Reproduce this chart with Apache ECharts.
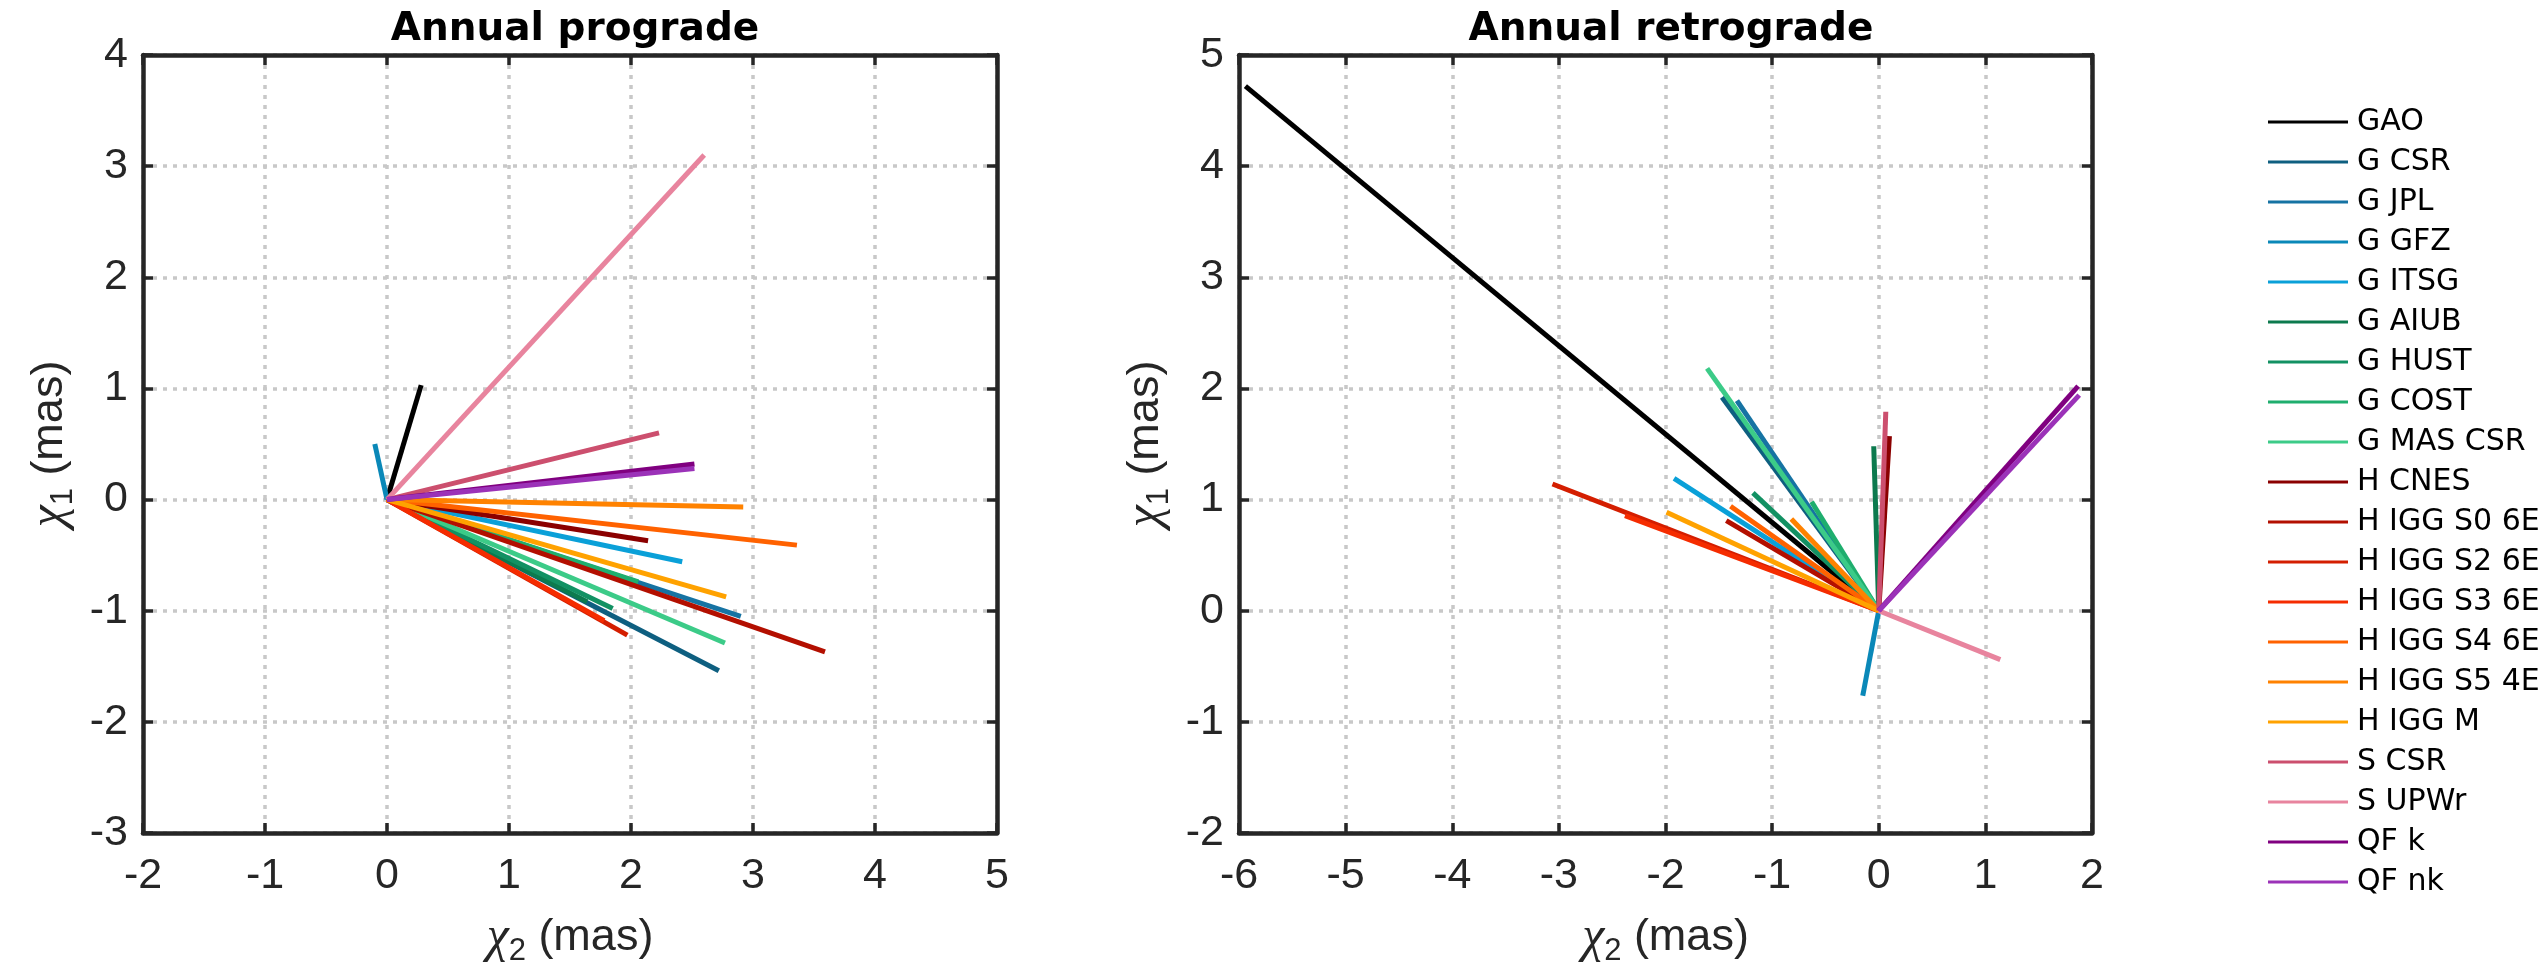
<!DOCTYPE html>
<html>
<head>
<meta charset="utf-8">
<script src="https://cdn.jsdelivr.net/npm/echarts@6/dist/echarts.min.js"></script>
<style>
  html, body { margin: 0; padding: 0; background: #ffffff; }
  #chart { width: 2542px; height: 977px; }
</style>
</head>
<body>
<div id="chart"></div>
<script>
// Series names (legend order)
const seriesNames = ['GAO', 'G CSR', 'G JPL', 'G GFZ', 'G ITSG', 'G AIUB', 'G HUST', 'G COST', 'G MAS CSR',
  'H CNES', 'H IGG S0 6E', 'H IGG S2 6E', 'H IGG S3 6E', 'H IGG S4 6E', 'H IGG S5 4E', 'H IGG M',
  'S CSR', 'S UPWr', 'QF k', 'QF nk'];

// Annual prograde phasor tips (mas)
const progradeChi2 = [0.28, 2.72, 2.90, -0.10, 2.42, 1.64, 1.85, 2.06, 2.77,
  2.14, 3.59, 1.97, 1.78, 3.36, 2.92, 2.78, 2.23, 2.60, 2.52, 2.52];
const progradeChi1 = [1.03, -1.54, -1.05, 0.50, -0.56, -0.92, -0.98, -0.74, -1.29,
  -0.37, -1.37, -1.22, -1.09, -0.41, -0.066, -0.876, 0.60, 3.10, 0.32, 0.28];

// Annual retrograde phasor tips (mas)
const retroChi2 = [-5.94, -1.47, -1.33, -0.15, -1.92, -0.047, -1.18, -0.63, -1.61,
  0.10, -1.43, -3.06, -2.38, -1.39, -0.82, -1.99, 0.066, 1.14, 1.87, 1.88];
const retroChi1 = [4.72, 1.92, 1.89, -0.765, 1.19, 1.48, 1.06, 0.98, 2.18,
  1.57, 0.81, 1.14, 0.855, 0.94, 0.825, 0.885, 1.79, -0.44, 2.02, 1.94];

// Axis ranges and ticks
const progradeXRange = [-2, 5];
const progradeYRange = [-3, 4];
const retroXRange = [-6, 2];
const retroYRange = [-2, 5];
const tickStep = 1;

const panelTitles = ['Annual prograde', 'Annual retrograde'];

// Line colours, one per series
const palette = ['#000000', '#0e5f80', '#1673a3', '#0a88b8', '#0aa0d8', '#0c7a4e', '#129163', '#1fae6e', '#3ccb88',
  '#8b0000', '#b30f00', '#d41e00', '#f52c00', '#ff6200', '#ff8200', '#ffa200',
  '#cc4f6e', '#e8849e', '#800080', '#9b32b8'];

const AX = '#262626';
const FONT = 'Liberation Sans, Arial, sans-serif';
const WIDE = 'DejaVu Sans, sans-serif';

const nameRich = {
  c: { fontFamily: 'Liberation Serif, serif', fontStyle: 'italic', fontSize: 50, color: AX, lineHeight: 58 },
  s: { fontFamily: FONT, fontSize: 31, color: AX, verticalAlign: 'bottom', lineHeight: 28 },
  t: { fontFamily: FONT, fontSize: 45, color: AX, lineHeight: 58 }
};
const gridLine = { color: '#c8c8c8', width: 3.5, type: [4, 6] };

function mainX(grid, range) {
  return {
    gridIndex: grid, type: 'value', position: 'bottom',
    min: range[0], max: range[1], interval: tickStep,
    axisLine: { show: true, onZero: false, lineStyle: { color: AX, width: 4.5 } },
    axisTick: { show: true, inside: true, length: 10, lineStyle: { color: AX, width: 3.5 } },
    axisLabel: { show: true, margin: 22, color: AX, fontSize: 43, fontFamily: FONT },
    splitLine: { show: true, lineStyle: gridLine },
    name: '{c|χ}{s|2}{t| (mas)}', nameLocation: 'middle', nameGap: 76,
    nameTextStyle: { rich: nameRich }
  };
}
function topX(grid, range) {
  return {
    gridIndex: grid, type: 'value', position: 'top',
    min: range[0], max: range[1], interval: tickStep,
    axisLine: { show: true, onZero: false, lineStyle: { color: AX, width: 4.5 } },
    axisTick: { show: true, inside: true, length: 10, lineStyle: { color: AX, width: 3.5 } },
    axisLabel: { show: false }, splitLine: { show: false }
  };
}
function mainY(grid, range) {
  return {
    gridIndex: grid, type: 'value', position: 'left',
    min: range[0], max: range[1], interval: tickStep,
    axisLine: { show: true, onZero: false, lineStyle: { color: AX, width: 4.5 } },
    axisTick: { show: true, inside: true, length: 10, lineStyle: { color: AX, width: 3.5 } },
    axisLabel: { show: true, margin: 15, color: AX, fontSize: 43, fontFamily: FONT },
    splitLine: { show: true, lineStyle: gridLine },
    name: '{c|χ}{s|1}{t| (mas)}', nameLocation: 'middle', nameGap: 64, nameRotate: 90,
    nameTextStyle: { rich: nameRich }
  };
}
function rightY(grid, range) {
  return {
    gridIndex: grid, type: 'value', position: 'right',
    min: range[0], max: range[1], interval: tickStep,
    axisLine: { show: true, onZero: false, lineStyle: { color: AX, width: 4.5 } },
    axisTick: { show: true, inside: true, length: 10, lineStyle: { color: AX, width: 3.5 } },
    axisLabel: { show: false }, splitLine: { show: false }
  };
}

const series = [];
// Each phasor is drawn as a segment from the origin to its tip
[[progradeChi2, progradeChi1, 0], [retroChi2, retroChi1, 2]].forEach(([xs, ys, axisIdx]) => {
  seriesNames.forEach((name, i) => {
    series.push({
      name: name, type: 'line', xAxisIndex: axisIdx, yAxisIndex: axisIdx,
      data: [[0, 0], [xs[i], ys[i]]],
      symbol: 'none', silent: true,
      lineStyle: { color: palette[i], width: 5, cap: 'butt' },
      itemStyle: { color: palette[i] }
    });
  });
});

const chart = echarts.init(document.getElementById('chart'), null, { renderer: 'canvas' });
chart.setOption({
  animation: false,
  backgroundColor: '#ffffff',
  title: [
    { text: panelTitles[0], left: 570, top: 5, textAlign: 'center',
      textStyle: { fontFamily: WIDE, fontWeight: 'bold', fontSize: 39, color: '#000' } },
    { text: panelTitles[1], left: 1666, top: 5, textAlign: 'center',
      textStyle: { fontFamily: WIDE, fontWeight: 'bold', fontSize: 39, color: '#000' } }
  ],
  grid: [
    { left: 143, top: 55, width: 854, height: 778 },
    { left: 1239, top: 55, width: 853, height: 778 }
  ],
  xAxis: [mainX(0, progradeXRange), topX(0, progradeXRange), mainX(1, retroXRange), topX(1, retroXRange)],
  yAxis: [mainY(0, progradeYRange), rightY(0, progradeYRange), mainY(1, retroYRange), rightY(1, retroYRange)],
  legend: {
    data: seriesNames, orient: 'vertical', left: 2263, top: 102,
    icon: 'rect', itemWidth: 80, itemHeight: 3, itemGap: 10,
    textStyle: { fontFamily: WIDE, fontSize: 30, color: '#000', lineHeight: 30, padding: [0, 0, 0, 4] }
  },
  series: series
});
</script>
</body>
</html>
